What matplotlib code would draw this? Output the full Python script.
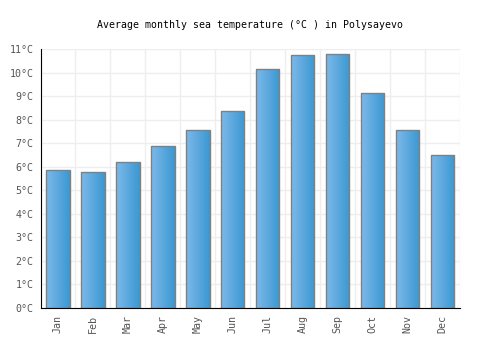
import numpy as np
import matplotlib
matplotlib.use('Agg')
import matplotlib.pyplot as plt
from matplotlib.colors import LinearSegmentedColormap

months = ['Jan', 'Feb', 'Mar', 'Apr', 'May', 'Jun',
          'Jul', 'Aug', 'Sep', 'Oct', 'Nov', 'Dec']
temps = [5.85, 5.77, 6.22, 6.9, 7.55, 8.35,
         10.17, 10.73, 10.77, 9.15, 7.55, 6.5]
yticks = list(range(0, 12))
ytick_labels = ['%d°C' % v for v in yticks]

plt.rcParams['font.family'] = ['DejaVu Sans Mono']

fig = plt.figure(figsize=(5, 3.5), dpi=100)
ax = fig.add_axes([0.081, 0.12, 0.839, 0.74])

x = np.arange(len(months))
bar_w = 0.67
bars = ax.bar(x, temps, width=bar_w, color='none', edgecolor='#808080',
              linewidth=1.0, zorder=3)

# horizontal gradient fill inside each bar
cmap = LinearSegmentedColormap.from_list('g', ['#7db9ea', '#3b98d2'])
grad = np.linspace(0, 1, 64).reshape(1, -1)
for b in bars:
    x0, w, h = b.get_x(), b.get_width(), b.get_height()
    im = ax.imshow(grad, cmap=cmap, aspect='auto',
                   extent=(x0, x0 + w, 0, h), zorder=2, interpolation='bicubic')
    im.set_clip_path(b)

ax.set_xlim(-0.5, 11.5)
ax.set_ylim(0, 11)
ax.set_xticks(x)
ax.set_xticklabels(months, rotation=90, fontsize=7.2, color='#555555')
ax.set_yticks(yticks)
ax.set_yticklabels(ytick_labels, fontsize=7.2, color='#555555')
ax.tick_params(axis='both', length=0, pad=5)

# grid: horizontal per degree, vertical at category boundaries
for v in yticks:
    ax.axhline(v, color='#eeeeee', linewidth=1, zorder=0)
for v in np.arange(-0.5, 12, 1):
    ax.axvline(v, color='#eeeeee', linewidth=1, zorder=0)

for s in ['top', 'right']:
    ax.spines[s].set_visible(False)
ax.spines['left'].set_color('black')
ax.spines['bottom'].set_color('black')
ax.spines['left'].set_zorder(4)
ax.spines['bottom'].set_zorder(4)

fig.text(0.5, 0.928, 'Average monthly sea temperature (°C ) in Polysayevo',
         ha='center', va='center', fontsize=7.1, color='black')

fig.savefig('out.png', dpi=100)
